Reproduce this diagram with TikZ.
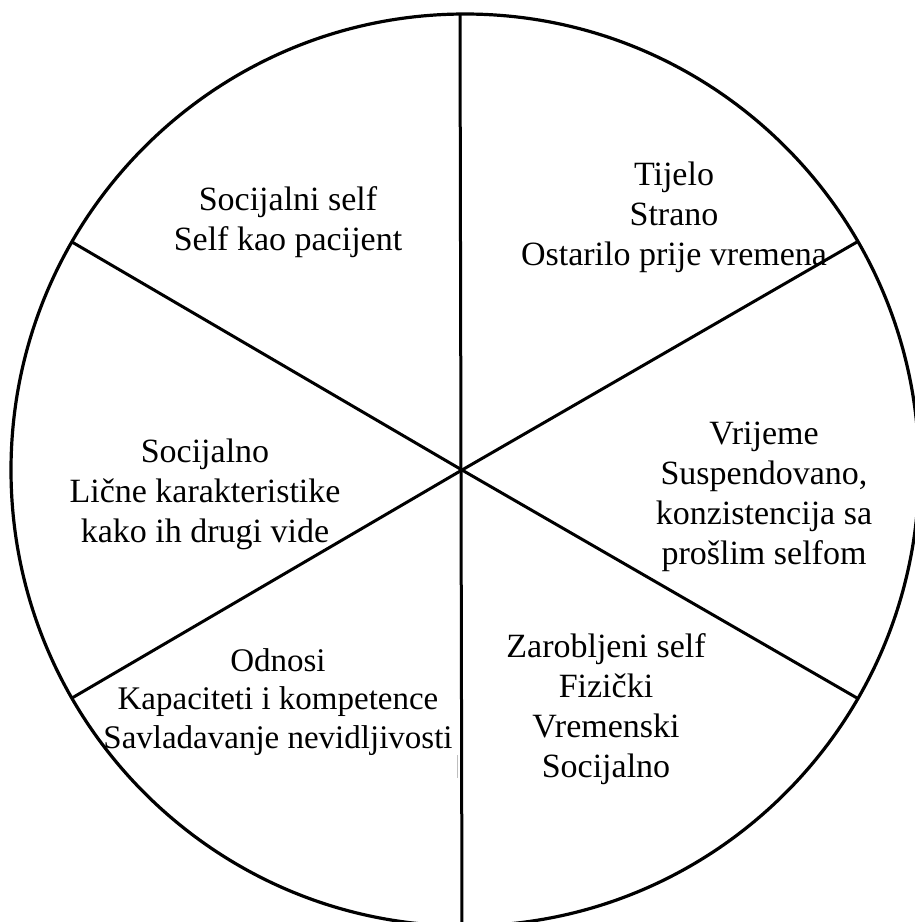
\documentclass[tikz,border=0pt]{standalone}
\usepackage{fontspec}
\setmainfont{Liberation Serif}
\begin{document}
\begin{tikzpicture}[x=1pt,y=-1pt,
  divider/.style={line width=3pt},
  rim/.style={line width=3.2pt},
  label/.style={align=center,inner sep=0pt,font=\fontsize{34}{40}\selectfont}]
\useasboundingbox (0,0) rectangle (915,922);
\clip (0,0) rectangle (915,922);
\fill[white] (0,0) rectangle (915,922);

% centre of the dividers and rim points of the six sectors
\coordinate (c) at (462,470);
\coordinate (o) at (465,470);
\coordinate (top) at (460,14);
\coordinate (bot) at (462,930);
\coordinate (ul) at (72,242);
\coordinate (ur) at (857,242);
\coordinate (ll) at (72,698);
\coordinate (lr) at (857,698);

% outer circle
\draw[rim] (o) ellipse [x radius=454pt, y radius=456pt];

% dividers
\draw[divider] (top) -- (bot);
\draw[divider] (ul) -- (c) -- (lr);
\draw[divider] (ur) -- (c) -- (ll);

% sector texts
\node[label] (s1) at (288,222) {Socijalni self\\Self kao pacijent};
\node[label] (s2) at (674,217) {Tijelo\\Strano\\Ostarilo prije vremena};
\node[label] (s3) at (764,497) {Vrijeme\\Suspendovano,\\konzistencija sa\\prošlim selfom};
\node[label] (s4) at (205,494) {Socijalno\\Lične karakteristike\\kako ih drugi vide};
\node[label,font=\fontsize{33}{38.5}\selectfont] (s5) at (278,702) {Odnosi\\Kapaciteti i kompetence\\Savladavanje nevidljivosti};
\node[label] (s6) at (606,709) {Zarobljeni self\\Fizički\\Vremenski\\Socijalno};

% faint stray mark below the lower left text
\coordinate (m1) at (457,755);
\coordinate (m2) at (457,778);
\draw[gray!50,line width=0.6pt] (m1) -- (m2);
\end{tikzpicture}
\end{document}
